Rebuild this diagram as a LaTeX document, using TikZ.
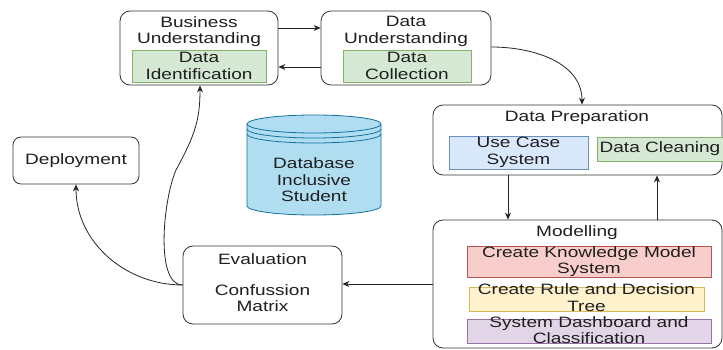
\documentclass[tikz,border=0pt]{standalone}
\usepackage{fontspec}
\setmainfont{Liberation Sans}[FakeStretch=1.27]
\usetikzlibrary{arrows.meta, backgrounds}

\definecolor{gfill}{HTML}{D5E8D4}
\definecolor{gline}{HTML}{82B366}
\definecolor{bfill}{HTML}{DAE8FC}
\definecolor{bline}{HTML}{6C8EBF}
\definecolor{rfill}{HTML}{F8CECC}
\definecolor{rline}{HTML}{B85450}
\definecolor{yfill}{HTML}{FFF2CC}
\definecolor{yline}{HTML}{D6B656}
\definecolor{pfill}{HTML}{E1D5E7}
\definecolor{pline}{HTML}{9673A6}
\definecolor{dbfill}{HTML}{B1DDF0}
\definecolor{dbline}{HTML}{10739E}

\tikzstyle{phase} = [rectangle, rounded corners=10pt, draw=black!80, fill=white, line width=0.8pt, inner sep=0pt]
\tikzstyle{task} = [rectangle, inner sep=0pt, line width=0.8pt]
\tikzstyle{txt} = [align=center, inner sep=0pt, font=\fontsize{15}{16.5}\selectfont, text=black!88]
\tikzstyle{arrow} = [-{Stealth[length=7pt,width=6pt]}, line width=0.8pt, draw=black!85]

\begin{document}
\begin{tikzpicture}[x=1pt, y=-1pt, background rectangle/.style={fill=white}, show background rectangle]

    \useasboundingbox (0,0) rectangle (723,350);

    % phases
    \node (bu) [phase, minimum width=158pt, minimum height=74pt] at (199,48) {};
    \node (du) [phase, minimum width=170pt, minimum height=74pt] at (406,48) {};
    \node (dp) [phase, minimum width=289pt, minimum height=70pt] at (577.5,140) {};
    \node (mo) [phase, minimum width=289pt, minimum height=128pt] at (577.5,284) {};
    \node (ev) [phase, minimum width=159pt, minimum height=78pt] at (262.5,285) {};
    \node (de) [phase, rounded corners=8pt, minimum width=126pt, minimum height=47pt] at (76,160.5) {};

    \node (bu-t) [txt] at (199,31.5) {Business\\Understanding};
    \node (du-t) [txt] at (406,31.5) {Data\\Understanding};
    \node (dp-t) [txt] at (577,118) {Data Preparation};
    \node (mo-t) [txt] at (577,233) {Modelling};
    \node (ev-t) [txt] at (262.5,259) {Evaluation};
    \node (cm-t) [txt] at (262.5,298) {Confussion\\Matrix};
    \node (de-t) [txt] at (de) {Deployment};

    % tasks
    \node (di) [task, fill=gfill, draw=gline, minimum width=134pt, minimum height=32pt] at (199,66) {};
    \node (dc) [task, fill=gfill, draw=gline, minimum width=128pt, minimum height=32pt] at (407,66) {};
    \node (uc) [task, fill=bfill, draw=bline, minimum width=139pt, minimum height=33pt] at (518.5,152.5) {};
    \node (cl) [task, fill=gfill, draw=gline, minimum width=126pt, minimum height=24pt] at (660,149) {};
    \node (km) [task, fill=rfill, draw=rline, minimum width=244pt, minimum height=31pt] at (589,261.5) {};
    \node (dt) [task, fill=yfill, draw=yline, minimum width=235pt, minimum height=24pt] at (586.5,299) {};
    \node (sd) [task, fill=pfill, draw=pline, minimum width=244pt, minimum height=24pt] at (589,331) {};

    \node (di-t) [txt] at (di) {Data\\Identification};
    \node (dc-t) [txt] at (dc) {Data\\Collection};
    \node (uc-t) [txt] at (uc) {Use Case\\System};
    \node (cl-t) [txt] at (cl) {Data Cleaning};
    \node (km-t) [txt] at (km) {Create Knowledge Model\\System};
    \node (dt-t) [txt] at (586.5,297.5) {Create Rule and Decision\\Tree};
    \node (sd-t) [txt] at (589,330) {System Dashboard and\\Classification};

    % database
    \draw [fill=dbfill, draw=dbline, line width=0.8pt]
        (247,124) -- (247,206) arc[start angle=180, end angle=360, x radius=67pt, y radius=9pt]
        -- (381,124) arc[start angle=0, end angle=180, x radius=67pt, y radius=9pt] -- cycle;
    \draw [draw=dbline, line width=0.8pt] (247,124) arc[start angle=180, end angle=360, x radius=67pt, y radius=9pt];
    \draw [draw=dbline, line width=0.8pt] (247,129) arc[start angle=180, end angle=360, x radius=67pt, y radius=9pt];
    \draw [draw=dbline, line width=0.8pt] (247,134) arc[start angle=180, end angle=360, x radius=67pt, y radius=9pt];
    \node (db-t) [txt] at (314,180) {Database\\Inclusive\\Student};

    % flow
    \draw [arrow] ([yshift=20pt]bu.east) -- ([yshift=20pt]du.west);
    \draw [arrow] ([yshift=-19pt]du.west) -- ([yshift=-19pt]bu.east);
    \draw [arrow] ([yshift=1pt]du.east) to[out=0, in=90] ([xshift=4.5pt]dp.north);
    \draw [arrow] ([xshift=-69.5pt]dp.south) -- ([xshift=-69.5pt]mo.north);
    \draw [arrow] ([xshift=79.5pt]mo.north) -- ([xshift=79.5pt]dp.south);
    \draw [arrow] (mo.west) -- (mo.west -| ev.east);
    \draw [arrow] (ev.west) to[out=180, in=-90] (de.south);
    \draw [arrow] (ev.west) .. controls (155,285) and (163,200) .. (176,170)
        .. controls (195,135) and (200,120) .. ([xshift=1pt]bu.south);

\end{tikzpicture}
\end{document}
